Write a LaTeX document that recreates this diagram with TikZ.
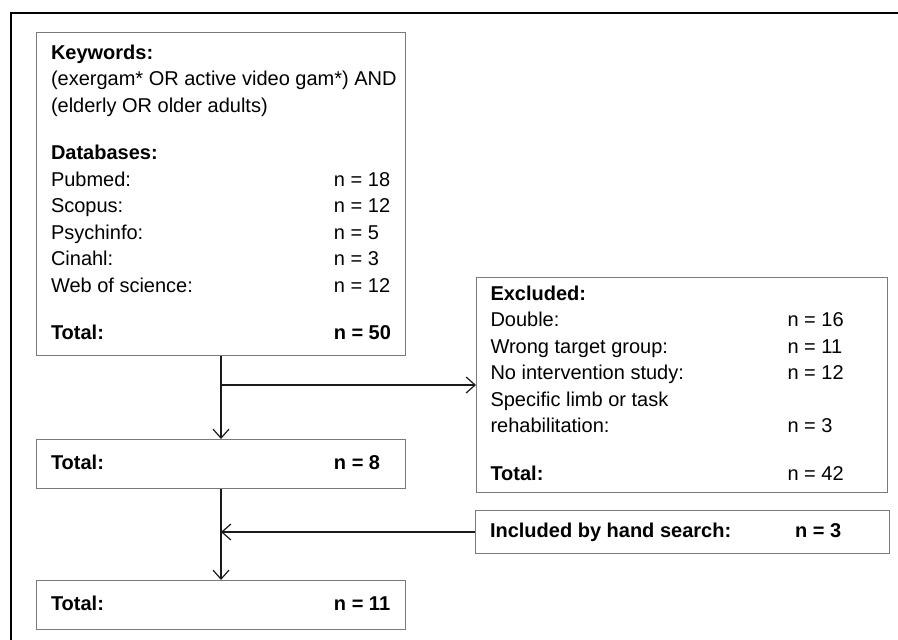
\documentclass[tikz,border=0pt]{standalone}
\usepackage{fontspec}
\setmainfont{Liberation Sans}
\usetikzlibrary{arrows.meta,positioning}
\definecolor{BoxLine}{HTML}{7A7A7A}
\definecolor{ArrowLine}{HTML}{1A1A1A}

\begin{document}
\begin{tikzpicture}[x=1pt,y=-1pt]
    \tikzset{bx/.style={draw=BoxLine,line width=1pt,anchor=north west,inner xsep=14.5pt,inner ysep=0pt,font=\fontsize{20}{26.5}\selectfont},
      ar/.style={-{Straight Barb[length=9pt,width=16pt]},ArrowLine,line width=1.2pt}}
    \useasboundingbox (0,0) rectangle (898,640);
    % outer frame
    \draw[line width=2pt] (11,640) -- (11,12.5) -- (898,12.5);
    \node[bx,minimum height=323pt] (kw) at (36,32) {%
      \begin{tabular}{@{}p{283pt}@{}p{57pt}@{}}
        \textbf{Keywords:} & \\
        \multicolumn{2}{@{}l@{}}{\makebox[0pt][l]{(exergam* OR active video gam*) AND}} \\
        \multicolumn{2}{@{}l@{}}{(elderly OR older adults)} \\[21pt]
        \textbf{Databases:} & \\
        Pubmed: & n = 18 \\
        Scopus: & n = 12 \\
        Psychinfo: & n = 5 \\
        Cinahl: & n = 3 \\
        Web of science: & n = 12 \\[21pt]
        \textbf{Total:} & \textbf{n = 50}
      \end{tabular}};
    \node[bx,minimum height=49pt,below=83pt of kw] (tot1) {%
      \begin{tabular}{@{}p{283pt}@{}p{57pt}@{}}
        \textbf{Total:} & \textbf{n = 8}
      \end{tabular}};
    \node[bx,minimum height=49pt,below=91pt of tot1] (tot2) {%
      \begin{tabular}{@{}p{283pt}@{}p{57pt}@{}}
        \textbf{Total:} & \textbf{n = 11}
      \end{tabular}};
    \node[bx,inner xsep=14pt,minimum height=215pt] (excl) at (476,277) {%
      \begin{tabular}{@{}p{297pt}@{}p{86pt}@{}}
        \textbf{Excluded:} & \\
        Double: & n = 16 \\
        Wrong target group: & n = 11 \\
        No intervention study: & n = 12 \\
        Specific limb or task & \\
        rehabilitation: & n = 3 \\[21pt]
        \textbf{Total:} & n = 42
      \end{tabular}};
    \node[bx,inner xsep=15pt,minimum height=43pt,below=17pt of excl] (hand) {%
      \begin{tabular}{@{}p{305pt}@{}p{79pt}@{}}
        \textbf{Included by hand search:} & \textbf{n = 3}
      \end{tabular}};
    \coordinate (split) at (kw.south |- excl.west);
    \coordinate (merge) at (tot1.south |- hand.west);
    \draw[ar] (kw.south) -- (tot1.north);
    \draw[ar] (split) -- (excl.west);
    \draw[ar] (tot1.south) -- (tot2.north);
    \draw[ar] (hand.west) -- (merge);
  \end{tikzpicture}
\end{document}
